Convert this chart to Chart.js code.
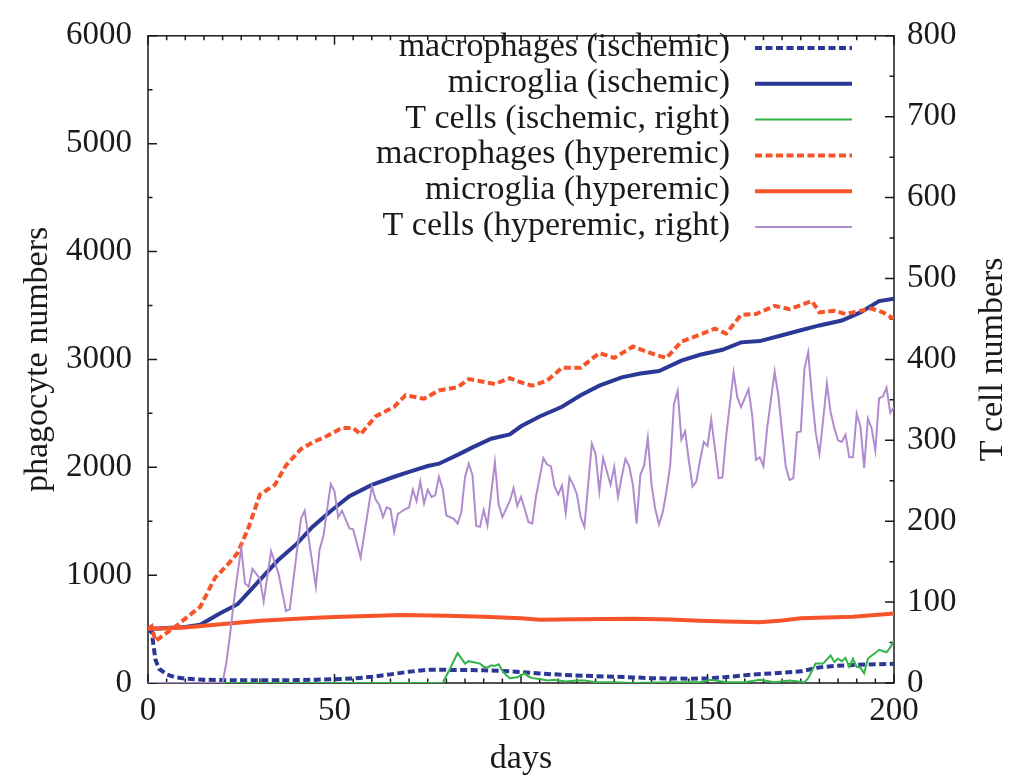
<!DOCTYPE html>
<html>
<head>
<meta charset="utf-8">
<title>phagocyte and T cell numbers</title>
<script src="https://cdn.jsdelivr.net/npm/chart.js@4/dist/chart.umd.min.js"></script>
<style>
html,body{margin:0;padding:0;background:#fff;}
#wrap{width:1015px;height:779px;position:relative;}
</style>
</head>
<body>
<div id="wrap"><canvas id="chart"></canvas></div>
<script>

/* DATA */

// macrophages, ischemic (left axis)
const macroIschDays=[0,1,2,3,5,7,10,15,20,25,30,35,40,45,50,55,60,65,70,75,80,85,90,95,100,105,110,115,120,125,130,135,140,145,150,155,160,165,170,175,180,185,190,195,200];
const macroIsch=[500,470,216,130,80,55,40,30,27,25,25,25,27,30,35,42,57,80,105,122,122,120,118,112,102,88,78,70,63,58,52,45,42,40,42,55,72,85,95,108,145,160,168,174,178];

// microglia, ischemic (left axis)
const microIschDays=[0,5,10,14,19,24,27,31,35,40,44,49,54,60,66,70,75,78,83,87,92,97,100,105,111,116,121,127,132,137,143,148,154,159,164,170,175,180,186,191,196,200];
const microIsch=[500,510,520,540,640,730,842,993,1143,1294,1445,1595,1731,1837,1912,1957,2012,2033,2115,2184,2265,2305,2380,2471,2561,2667,2757,2833,2869,2893,2989,3043,3089,3158,3170,3224,3270,3315,3360,3436,3541,3563];

// T cells, ischemic (right axis)
const tIschDays=[0,79,81,83,85,86,87,89,90,91,92,93,94,95,96,97,99,101,102,103,105,107,109,112,115,117,120,125,130,140,148,151,155,160,164,168,172,176,177,179,181,183,184,185,186,187,188,189,190,191,192,193,194,195,196,198,199,200];
const tIsch=[0,0,18,37,24,27,26,24,20,19,22,21,23,15,10,6,7,12,8,6,5,3,4,2,3,3,1,1,0,1,1,4,1,1,4,1,3,1,6,24,24,34,26,30,27,31,20,30,20,19,12,30,34,37,41,38,44,52];

// macrophages, hyperemic (left axis)
const macroHypDays=[0,1,2,5,8,9,14,18,21,24,27,30,34,37,41,44,48,52,55,57,61,66,69,74,78,83,86,93,97,100,103,107,111,116,121,125,130,136,139,143,148,152,155,159,163,168,172,178,180,184,187,189,194,197,200];
const macroHyp=[500,525,389,464,540,570,706,977,1083,1204,1445,1747,1837,2018,2169,2229,2290,2365,2365,2305,2471,2561,2667,2636,2712,2742,2817,2772,2826,2787,2757,2803,2923,2923,3059,3014,3119,3043,3014,3165,3231,3285,3240,3412,3421,3496,3466,3541,3436,3451,3421,3436,3472,3436,3376];

// microglia, hyperemic (left axis)
const microHypDays=[0,10,18,30,45,52,68,80,90,100,105,115,130,140,148,155,164,170,175,182,189,195,200];
const microHyp=[500,515,540,576,606,615,631,624,615,600,586,590,595,588,576,570,564,580,600,608,615,630,645];

// T cells, hyperemic (right axis)
const tHypDays=[0,20,21,22,23,24,25,26,27,28,30,31,33,34,35,37,38,41,42,43,45,46,47,49,50,51,52,54,55,57,60,61,62,63,64,65,66,67,68,69,70,71,72,73,74,75,76,77,78,79,80,81,82,83,84,85,86,87,88,89,90,91,93,94,95,96,97,98,99,100,101,102,103,104,106,107,108,109,110,111,112,113,114,115,116,117,118,119,120,121,122,123,124,125,126,127,128,129,130,131,132,133,134,135,136,137,138,139,140,141,142,143,144,145,146,147,148,149,150,151,152,153,154,155,157,158,159,160,161,162,163,164,165,166,168,169,170,171,172,173,174,175,176,177,178,179,180,181,182,183,184,185,186,187,188,189,190,191,192,193,194,195,196,197,198,199,200];
const tHyp=[0,0,25,60,100,135,167,123,119,141,129,101,163,149,135,89,91,203,213,181,119,165,181,246,237,205,213,191,190,155,243,227,220,205,217,215,187,209,212,215,217,239,225,249,222,239,230,232,255,240,207,205,203,197,211,255,271,257,194,193,214,195,273,221,205,215,225,241,219,230,215,199,197,230,278,270,268,243,233,244,210,254,245,233,205,193,245,296,283,237,278,262,245,267,230,255,277,268,245,197,257,269,303,245,215,196,211,237,269,345,361,301,311,275,243,249,275,298,293,326,290,253,254,305,384,353,341,352,363,330,276,279,268,315,385,355,310,267,251,253,310,311,389,409,355,310,283,325,370,335,315,300,298,307,279,279,333,317,266,327,315,287,352,354,365,334,341];

const days=[0,50,100,150,200]; // x tick labels
const leftTicks=[0,1000,2000,3000,4000,5000,6000];
const rightTicks=[0,100,200,300,400,500,600,700,800];

/* STYLE */

const BLUE="#2b3896", GREEN="#33b449", ORANGE="#f8542a", PURPLE="#b08ccf";
const INK="#1a1a1a";
const FONT="'Liberation Serif','Times New Roman',serif";

const series=[
{label:"macrophages (ischemic)",days:macroIschDays,vals:macroIsch,color:BLUE,width:4,dash:[7,3.5],axis:"y"},
{label:"microglia (ischemic)",days:microIschDays,vals:microIsch,color:BLUE,width:4,dash:[],axis:"y"},
{label:"T cells (ischemic, right)",days:tIschDays,vals:tIsch,color:GREEN,width:2,dash:[],axis:"y2"},
{label:"macrophages (hyperemic)",days:macroHypDays,vals:macroHyp,color:ORANGE,width:4,dash:[7,3.5],axis:"y"},
{label:"microglia (hyperemic)",days:microHypDays,vals:microHyp,color:ORANGE,width:4,dash:[],axis:"y"},
{label:"T cells (hyperemic, right)",days:tHypDays,vals:tHyp,color:PURPLE,width:2,dash:[],axis:"y2"}
];

/* PLUGINS */

// box round the plot, with inward ticks on all four sides
const frameTicks={
id:"frameTicks",
beforeDatasetsDraw(chart){
const {ctx,chartArea:a,scales:{x,y,y2}}=chart;
ctx.save();
ctx.strokeStyle=INK;
ctx.lineWidth=1.5;
ctx.beginPath();
for(let d=0;d<=200;d+=5){
const px=x.getPixelForValue(d), len=d%50===0?9:4.5;
ctx.moveTo(px,a.bottom); ctx.lineTo(px,a.bottom-len);
ctx.moveTo(px,a.top); ctx.lineTo(px,a.top+len);
}
for(let v=0;v<=6000;v+=500){
const py=y.getPixelForValue(v), len=v%1000===0?9:4.5;
ctx.moveTo(a.left,py); ctx.lineTo(a.left+len,py);
}
for(let v=0;v<=800;v+=50){
const py=y2.getPixelForValue(v), len=v%100===0?9:4.5;
ctx.moveTo(a.right,py); ctx.lineTo(a.right-len,py);
}
ctx.stroke();
ctx.strokeRect(a.left,a.top,a.right-a.left,a.bottom-a.top);
ctx.restore();
}
};

// gnuplot-like key: text right aligned, sample line on the right
const sideKey={
id:"sideKey",
afterDraw(chart){
const {ctx}=chart;
ctx.save();
ctx.font="34px "+FONT;
ctx.fillStyle=INK;
ctx.textAlign="right";
ctx.textBaseline="alphabetic";
chart.data.datasets.forEach((ds,i)=>{
const ry=48+i*35.8;
ctx.fillText(ds.label,730,ry+8);
ctx.strokeStyle=ds.borderColor;
ctx.lineWidth=ds.borderWidth;
ctx.setLineDash(ds.borderDash);
ctx.beginPath();
ctx.moveTo(755,ry); ctx.lineTo(852,ry);
ctx.stroke();
ctx.setLineDash([]);
});
ctx.restore();
}
};

// right axis title reads bottom to top, like the left one
const rightTitle={
id:"rightTitle",
afterDraw(chart){
const {ctx,chartArea:a}=chart;
ctx.save();
ctx.font="34px "+FONT;
ctx.fillStyle=INK;
ctx.textAlign="center";
ctx.textBaseline="middle";
ctx.translate(993,(a.top+a.bottom)/2);
ctx.rotate(-Math.PI/2);
ctx.fillText("T cell numbers",0,0);
ctx.restore();
}
};

/* CHART */

new Chart(document.getElementById("chart"),{
type:"line",
data:{
datasets:series.map((s,i)=>({
label:s.label,
data:s.days.map((d,j)=>({x:d,y:s.vals[j]})),
borderColor:s.color,
borderWidth:s.width,
borderDash:s.dash,
yAxisID:s.axis,
pointRadius:0,
tension:0,
fill:false,
order:6-i
}))
},
options:{
responsive:true,
maintainAspectRatio:false,
animation:false,
layout:{padding:{top:20,left:0,right:0,bottom:0}},
plugins:{legend:{display:false},tooltip:{enabled:false}},
scales:{
x:{
type:"linear",min:0,max:200,
grid:{display:false,drawTicks:false},
border:{display:false},
afterBuildTicks:s=>{s.ticks=days.map(v=>({value:v}));},
ticks:{color:INK,padding:9,font:{family:FONT,size:33},maxRotation:0},
title:{display:true,text:"days",color:INK,font:{family:FONT,size:34},padding:{top:0,bottom:0}},
afterFit:s=>{s.height=96;}
},
y:{
position:"left",min:0,max:6000,
grid:{display:false,drawTicks:false},
border:{display:false},
afterBuildTicks:s=>{s.ticks=leftTicks.map(v=>({value:v}));},
ticks:{color:INK,padding:16,font:{family:FONT,size:33},callback:v=>String(v)},
title:{display:true,text:"phagocyte numbers",color:INK,font:{family:FONT,size:34},padding:{top:18,bottom:0}},
afterFit:s=>{s.width=148;}
},
y2:{
position:"right",min:0,max:800,
grid:{display:false,drawTicks:false},
border:{display:false},
afterBuildTicks:s=>{s.ticks=rightTicks.map(v=>({value:v}));},
ticks:{color:INK,padding:13,font:{family:FONT,size:33},callback:v=>String(v)},
afterFit:s=>{s.width=121;}
}
}
},
plugins:[frameTicks,sideKey,rightTitle]
});

</script>
</body>
</html>
